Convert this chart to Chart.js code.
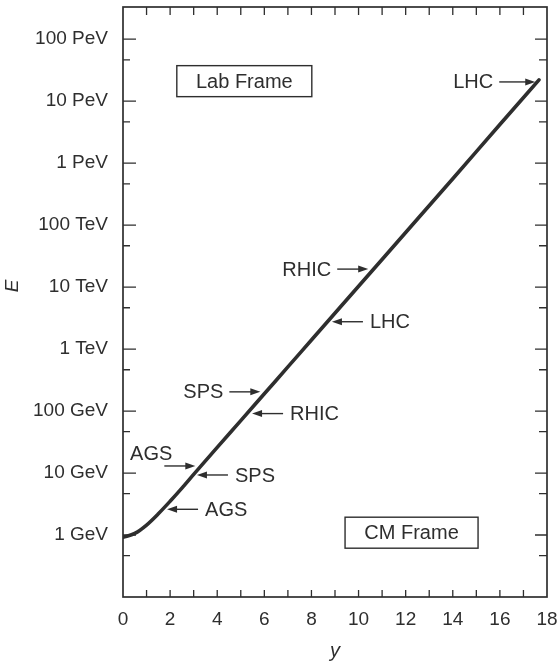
<!DOCTYPE html>
<html>
<head>
<meta charset="utf-8">
<script src="https://cdn.jsdelivr.net/npm/chart.js@4.4.1/dist/chart.umd.min.js"></script>
<style>
  html, body { margin: 0; padding: 0; background: #fff; }
  #wrap { width: 557px; height: 666px; }
</style>
</head>
<body>
<div id="wrap"><canvas id="c" width="557" height="666"></canvas></div>
<script>
// rapidity y vs energy E (GeV)
const rapidity = [0, 0.5, 1, 1.5, 2, 2.5, 3, 4, 5, 6, 7, 8, 10, 12, 14, 16, 17.66];
const energyGeV = [0.92, 1.06, 1.45, 2.2, 3.5, 5.7, 9.5, 26, 70, 190, 515, 1400, 10300, 76000, 5.6e5, 4.2e6, 2.2e7];

const yTickValues = [1, 10, 100, 1e3, 1e4, 1e5, 1e6, 1e7, 1e8];
const yTickLabels = ['1 GeV', '10 GeV', '100 GeV', '1 TeV', '10 TeV', '100 TeV', '1 PeV', '10 PeV', '100 PeV'];
const yMinorTicks = [0.464, 4.64, 46.4, 464, 4640, 46400, 4.64e5, 4.64e6, 4.64e7];
const xTickValues = [0, 2, 4, 6, 8, 10, 12, 14, 16, 18];
const xMinorTicks = [1, 2, 3, 4, 5, 6, 7, 8, 9, 10, 11, 12, 13, 14, 15, 16, 17];

// accelerator markers: label, rapidity and energy the arrow points at, arrow direction
const markerLabels = ['LHC', 'RHIC', 'LHC', 'SPS', 'RHIC', 'AGS', 'SPS', 'AGS'];
const markerRapidity = [17.5, 10.41, 8.87, 5.83, 5.48, 3.07, 3.14, 1.87];
const markerEnergy = [2.04e7, 1.95e4, 2760, 204, 91, 13, 9.3, 2.6];
const markerDir = ['right', 'right', 'left', 'right', 'left', 'right', 'left', 'left'];

const ink = '#2e2e2e';
const font = '"Liberation Sans", Arial, Helvetica, sans-serif';

const points = rapidity.map((v, i) => ({ x: v, y: energyGeV[i] }));

const decorations = {
    id: 'decorations',
    beforeDraw(chart) {
        const ctx = chart.ctx;
        ctx.save();
        ctx.fillStyle = '#fff';
        ctx.fillRect(0, 0, chart.width, chart.height);
        ctx.restore();
    },
    afterDatasetsDraw(chart) {
        const { ctx, chartArea: a, scales: { x, y } } = chart;
        ctx.save();
        ctx.strokeStyle = ink;
        ctx.lineWidth = 1.7;
        ctx.strokeRect(a.left, a.top, a.right - a.left, a.bottom - a.top);

        // inward ticks on all four sides
        ctx.lineWidth = 1.3;
        ctx.beginPath();
        yTickValues.forEach(v => {
            const p = y.getPixelForValue(v);
            ctx.moveTo(a.left, p); ctx.lineTo(a.left + 13, p);
            ctx.moveTo(a.right, p); ctx.lineTo(a.right - 12, p);
        });
        yMinorTicks.forEach(v => {
            const p = y.getPixelForValue(v);
            ctx.moveTo(a.left, p); ctx.lineTo(a.left + 7, p);
            ctx.moveTo(a.right, p); ctx.lineTo(a.right - 8, p);
        });
        xMinorTicks.forEach(v => {
            const p = x.getPixelForValue(v);
            ctx.moveTo(p, a.bottom); ctx.lineTo(p, a.bottom - 7);
            ctx.moveTo(p, a.top); ctx.lineTo(p, a.top + 8);
        });
        ctx.stroke();

        // frame boxes
        ctx.font = '20px ' + font;
        ctx.fillStyle = ink;
        ctx.textAlign = 'center';
        ctx.textBaseline = 'middle';
        ctx.lineWidth = 1.4;
        [['Lab Frame', 5.15, 2.1e7, 135], ['CM Frame', 12.25, 1.09, 133]].forEach(([t, xv, ev, w]) => {
            const cx = x.getPixelForValue(xv), cy = y.getPixelForValue(ev);
            ctx.strokeRect(cx - w / 2, cy - 15.5, w, 31);
            ctx.fillText(t, cx, cy + 1);
        });

        // arrows with labels
        markerLabels.forEach((t, i) => {
            const tx = x.getPixelForValue(markerRapidity[i]);
            const ty = y.getPixelForValue(markerEnergy[i]);
            const s = markerDir[i] === 'right' ? -1 : 1;
            const len = i === 0 ? 36 : 31;
            const tail = tx + s * len;
            ctx.beginPath();
            ctx.moveTo(tail, ty); ctx.lineTo(tx + s * 6, ty);
            ctx.stroke();
            ctx.beginPath();
            ctx.moveTo(tx, ty); ctx.lineTo(tx + s * 10, ty - 3.5); ctx.lineTo(tx + s * 10, ty + 3.5);
            ctx.closePath(); ctx.fill();
            if (i === 5) {
                ctx.textAlign = 'right';
                ctx.fillText(t, tx - 23, ty - 11);
            } else if (s < 0) {
                ctx.textAlign = 'right';
                ctx.fillText(t, tail - 6, ty + 1);
            } else {
                ctx.textAlign = 'left';
                ctx.fillText(t, tail + 7, ty + 1);
            }
        });

        // E axis title
        ctx.font = 'italic 19px ' + font;
        ctx.textAlign = 'center';
        ctx.translate(13, 286);
        ctx.rotate(-Math.PI / 2);
        ctx.fillText('E', 0, 0);
        ctx.restore();
    }
};

new Chart(document.getElementById('c'), {
    type: 'line',
    data: {
        datasets: [{
            data: points,
            borderColor: ink,
            borderWidth: 3.6,
            pointRadius: 0,
            fill: false,
            cubicInterpolationMode: 'monotone',
            borderCapStyle: 'round'
        }]
    },
    options: {
        responsive: false,
        animation: false,
        events: [],
        layout: { padding: { top: 7, right: 10, left: 0, bottom: 0 } },
        plugins: { legend: { display: false }, tooltip: { enabled: false } },
        scales: {
            x: {
                type: 'linear',
                min: 0, max: 18,
                afterFit(s) { s.height = 69; s.paddingLeft = 0; s.paddingRight = 0; },
                afterBuildTicks(s) { s.ticks = xTickValues.map(v => ({ value: v })); },
                grid: { display: false },
                border: { display: false },
                ticks: { color: ink, padding: 3, maxRotation: 0, font: { family: font, size: 19 } },
                title: { display: true, text: 'y', color: ink, padding: { top: 0, bottom: 3 }, font: { family: font, size: 20, style: 'italic' } }
            },
            y: {
                type: 'logarithmic',
                min: 0.1, max: 3.3e8,
                afterFit(s) { s.width = 123; s.paddingTop = 0; s.paddingBottom = 0; },
                afterBuildTicks(s) { s.ticks = yTickValues.map(v => ({ value: v })); },
                grid: { display: false },
                border: { display: false },
                ticks: {
                    color: ink, padding: 7, font: { family: font, size: 19 },
                    callback: v => yTickLabels[yTickValues.indexOf(v)] ?? ''
                }
            }
        }
    },
    plugins: [decorations]
});
</script>
</body>
</html>
